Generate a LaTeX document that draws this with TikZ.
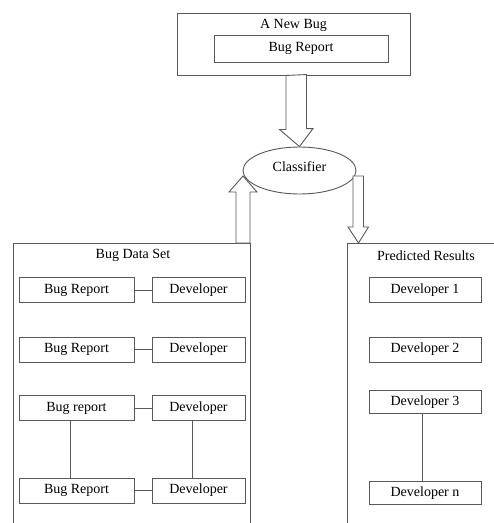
\documentclass[tikz,border=0pt]{standalone}
\usepackage{fontspec}
\setmainfont{Liberation Serif}
\usetikzlibrary{shapes.geometric,calc}
\tikzset{
  ln/.style={draw=black!65, line width=0.9pt},
  box/.style={ln, rectangle, inner sep=0pt, font=\fontsize{14}{16}\selectfont},
  lbl/.style={inner sep=0pt, font=\fontsize{14}{16}\selectfont},
  blockarrow/.style={ln, fill=white, line join=miter},
}
\begin{document}
\begin{tikzpicture}[x=1pt,y=-1pt]
\useasboundingbox (0,0) rectangle (494,523);
\clip (0,0) rectangle (494,523);
\fill[white] (0,0) rectangle (494,523);

% incoming bug
\node[box, minimum width=233pt, minimum height=62pt] (newbug) at (293.5,44) {};
\node[lbl] (newbugtitle) at (293.5,25) {A New Bug};
\node[box, minimum width=174pt, minimum height=27pt] (newreport) at (301,48.5) {Bug Report};

% classifier
\node[ln, ellipse, minimum width=113pt, minimum height=47pt, inner sep=0pt,
      font=\fontsize{14}{16}\selectfont] (classifier) at (299.5,170.5) {};
\node[lbl] (classlbl) at (299.5,167) {Classifier};

% training data panel (runs off the bottom edge)
\node[box, minimum width=237pt, minimum height=320pt, anchor=north west] (dataset) at (13,243) {};
\node[lbl] (datatitle) at (133,255) {Bug Data Set};

% results panel (runs off the right and bottom edges)
\node[box, minimum width=200pt, minimum height=320pt, anchor=north west] (results) at (347,243) {};
\node[lbl] (restitle) at (426,256) {Predicted Results};

% bug report / developer pairs
\foreach \i/\y/\txt in {1/290/Bug Report, 2/349.5/Bug Report, 3/408/Bug report, 4/490.5/Bug Report}{
  \node[box, minimum width=115pt, minimum height=25pt] (br\i) at (76.5,\y) {\txt};
  \node[box, minimum width=93pt, minimum height=25pt] (dv\i) at (198.5,\y) {Developer};
  \draw[ln] (br\i) -- (dv\i);
}
\draw[ln] (br3.south -| 70,0) -- (br4.north -| 70,0);
\draw[ln] (dv3.south -| 192,0) -- (dv4.north -| 192,0);

% ranked developers
\node[box, minimum width=112pt, minimum height=25pt] (r1) at (425,290) {Developer 1};
\node[box, minimum width=112pt, minimum height=25pt] (r2) at (425,349.5) {Developer 2};
\node[box, minimum width=112pt, minimum height=23pt] (r3) at (425,402) {Developer 3};
\node[box, minimum width=112pt, minimum height=23pt] (rn) at (425,493) {Developer n};
\draw[ln] (r3.south -| 422,0) -- (rn.north -| 422,0);

% hollow block arrows
% new bug -> classifier
\draw[blockarrow] ($(newbug.south)+(-0.5,0)$) ++(-7,0) -- ++(0,54) -- ++(-6.5,0)
  -- (classifier.north) -- ++(13.5,-18) -- ++(-6.5,0) -- ++(0,-54) -- cycle;
% data set -> classifier
\coordinate (upbase) at (243,243);
\coordinate (uptip) at (243,176);
\draw[blockarrow] ($(upbase)+(-7,0)$) -- ++(0,-51) -- ++(-7,0) -- (uptip)
  -- ++(14,16) -- ++(-7,0) -- ++(0,51) -- cycle;
% classifier -> results
\coordinate (dntop) at (358.5,176);
\coordinate (dntip) at (358.5,243);
\draw[blockarrow] ($(dntop)+(-5.5,0)$) -- ++(0,51) -- ++(-5,0) -- (dntip)
  -- ++(10,-16) -- ++(-5,0) -- ++(0,-51) -- cycle;
\end{tikzpicture}
\end{document}
